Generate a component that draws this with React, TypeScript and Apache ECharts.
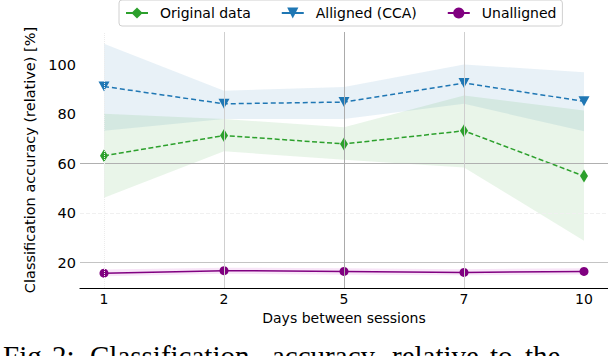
import React, { useEffect, useRef } from "react";
import * as echarts from "echarts";

const days = ["1", "2", "5", "7", "10"];
const originalMean = [63.2, 71.4, 68.0, 73.3, 55.0];
const originalLower = [46.3, 65.0, 61.6, 58.5, 28.9];
const originalUpper = [80.2, 78.1, 74.7, 87.6, 81.5];
const alignedMean = [91.2, 84.2, 84.9, 92.6, 85.2];
const alignedLower = [73.3, 78.1, 78.1, 84.2, 73.1];
const alignedUpper = [108.5, 89.5, 91.0, 100.1, 96.9];
const unalignedMean = [15.8, 16.8, 16.5, 16.1, 16.5];
const unalignedLower = [14.5, 15.6, 15.2, 14.9, 15.3];
const unalignedUpper = [17.3, 18.0, 17.8, 17.4, 17.8];
const yTickLabels = [20, 40, 60, 80, 100];
const captionWords = ["Fig.", "2:", "Classification", "accuracy", "relative", "to", "the"];
const captionX = [3, 52, 90, 272, 392, 490, 525];

const FONT = "DejaVu Sans";

function band(lower: number[], upper: number[], fill: string) {
  return {
    type: "custom",
    silent: true,
    z: 1,
    data: upper.map((v, i) => [i, lower[i], v]),
    encode: { x: 0, y: [1, 2] },
    renderItem: (params: any, api: any) => {
      if (params.dataIndex !== 0) return null;
      const pts: number[][] = [];
      upper.forEach((v, i) => pts.push(api.coord([i, v])));
      for (let i = lower.length - 1; i >= 0; i--) pts.push(api.coord([i, lower[i]]));
      return { type: "polygon", shape: { points: pts }, style: { fill } };
    },
  };
}

export default function App() {
  const ref = useRef<HTMLDivElement>(null);
  useEffect(() => {
    if (!ref.current) return;
    const chart = echarts.init(ref.current, null, { renderer: "svg" });
    const option: any = {
      animation: false,
      textStyle: { fontFamily: FONT },
      grid: { left: 80, right: 0, top: 32, bottom: 68 },
      legend: {
        left: 119,
        top: 0,
        padding: [6, 6, 6, 6],
        itemWidth: 22,
        itemHeight: 14,
        itemGap: 30,
        borderColor: "#d0d0d0",
        borderWidth: 1,
        borderRadius: 3,
        data: ["Original data", "Alligned (CCA)", "Unalligned"],
        lineStyle: { type: "solid" },
        textStyle: { fontFamily: FONT, fontSize: 14, color: "#000", padding: [0, 0, 0, 7] },
      },
      xAxis: {
        type: "value",
        min: -0.2,
        max: 4.2,
        splitLine: { show: false },
        axisLine: { show: true, onZero: false, lineStyle: { color: "#000", width: 1.2 } },
        axisTick: { show: false },
        axisLabel: {
          customValues: [0, 1, 2, 3, 4],
          formatter: (v: number) => days[Math.round(v)] ?? "",
          margin: 4,
          fontSize: 14,
          color: "#000",
          fontFamily: FONT,
        },
        name: "Days between sessions",
        nameLocation: "middle",
        nameGap: 18,
        nameTextStyle: { fontSize: 14, color: "#000", fontFamily: FONT },
      },
      yAxis: {
        type: "value",
        min: 9.8,
        max: 113.2,
        splitLine: { show: false },
        axisLine: { show: false },
        axisTick: { show: true, customValues: [20, 60], length: 3, lineStyle: { color: "#333" } },
        axisLabel: {
          customValues: yTickLabels,
          margin: 4,
          fontSize: 14.5,
          color: "#000",
          fontFamily: FONT,
        },
        name: "Classification accuracy (relative) [%]",
        nameLocation: "middle",
        nameGap: 33,
        nameTextStyle: { fontSize: 14.5, color: "#000", fontFamily: FONT },
      },
      graphic: captionWords.map((w, i) => ({
        type: "text",
        x: captionX[i],
        y: 356,
        silent: true,
        style: {
          text: w,
          fontFamily: "Liberation Serif",
          fontSize: 29,
          fill: "#000",
          align: "left",
          verticalAlign: "middle",
        },
      })),
      series: [
        band(alignedLower, alignedUpper, "rgba(31,119,180,0.1)"),
        band(originalLower, originalUpper, "rgba(44,160,44,0.1)"),
        band(unalignedLower, unalignedUpper, "rgba(210,80,210,0.15)"),
        {
          type: "line",
          name: "grid",
          data: [],
          z: 2,
          silent: true,
          markLine: {
            silent: true,
            symbol: ["none", "none"],
            label: { show: false },
            data: [
              { yAxis: 60, lineStyle: { color: "#b0b0b0", width: 1, type: "solid" } },
              { yAxis: 20, lineStyle: { color: "#c4c4c4", width: 1, type: "solid" } },
              { yAxis: 40, lineStyle: { color: "#f0f0f0", width: 1, type: "dashed" } },
              { xAxis: 0, lineStyle: { color: "#ececec", width: 1, type: "dotted" } },
              { xAxis: 1, lineStyle: { color: "#cfcfcf", width: 1, type: "solid" } },
              { xAxis: 2, lineStyle: { color: "#ababab", width: 1, type: "solid" } },
              { xAxis: 3, lineStyle: { color: "#cfcfcf", width: 1, type: "solid" } },
            ],
          },
        },
        {
          name: "Original data",
          type: "line",
          z: 4,
          data: originalMean.map((v, i) => [i, v]),
          symbol: "diamond",
          symbolSize: [8, 13],
          itemStyle: { color: "#2ca02c" },
          lineStyle: { color: "#2ca02c", width: 1.5, type: [5, 2.5] },
        },
        {
          name: "Alligned (CCA)",
          type: "line",
          z: 4,
          data: alignedMean.map((v, i) => [i, v]),
          symbol: "triangle",
          symbolRotate: 180,
          symbolSize: [11, 10],
          itemStyle: { color: "#1f77b4" },
          lineStyle: { color: "#1f77b4", width: 1.5, type: [5, 3] },
        },
        {
          name: "Unalligned",
          type: "line",
          z: 4,
          data: unalignedMean.map((v, i) => [i, v]),
          symbol: "circle",
          symbolSize: 9,
          itemStyle: { color: "#800080" },
          lineStyle: { color: "#800080", width: 1.5, type: "solid" },
        },
      ],
    };
    chart.setOption(option);
    return () => chart.dispose();
  }, []);
  return (
    <div
      ref={ref}
      style={{ position: "absolute", left: 0, top: 0, width: 608, height: 356, background: "#fff" }}
    />
  );
}
